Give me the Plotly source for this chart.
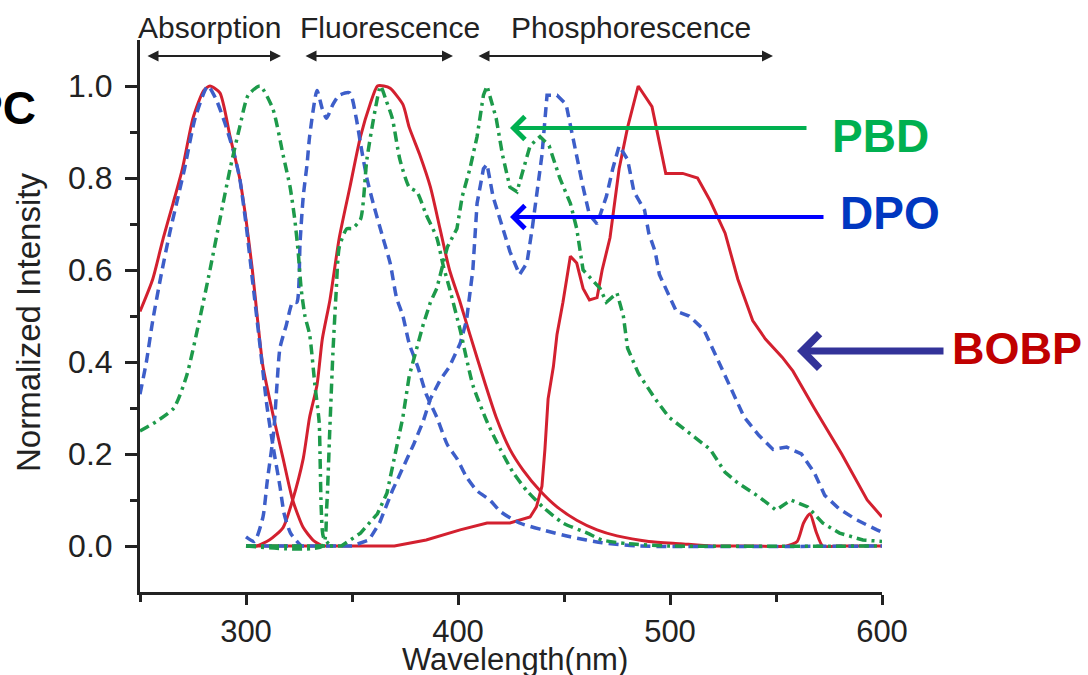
import plotly.graph_objects as go

# ---------------- data ----------------
# BOBP (red, solid)
bobp_abs_x = [250, 256, 261, 265.6, 270, 275, 280, 283, 287.7, 292.5, 297, 300, 303, 305.5, 308, 313, 317.5, 322, 327, 331.6, 336]
bobp_abs_y = [0.51, 0.58, 0.67, 0.745, 0.82, 0.93, 0.99, 1.0, 0.985, 0.89, 0.80, 0.71, 0.60, 0.49, 0.39, 0.28, 0.19, 0.10, 0.04, 0.013, 0.0]

bobp_fl_x = [300, 305, 311, 317.5, 322, 327, 330, 333.5, 336, 339.6, 344, 349, 354, 358.5, 362, 365, 368, 374, 377, 382,
             387, 391.5, 396, 401, 405.6, 413, 418, 424.5, 430.7, 438.7, 446.7, 456, 465.6, 475, 490, 505, 520, 540, 555, 560,
             563, 566, 569, 572, 580, 600]
bobp_fl_y = [0, 0, 0.013, 0.04, 0.10, 0.19, 0.28, 0.35, 0.45, 0.535, 0.67, 0.78, 0.89, 0.96, 1.0, 1.0, 0.995, 0.96, 0.91, 0.85,
             0.78, 0.69, 0.60, 0.53, 0.46, 0.35, 0.28, 0.21, 0.165, 0.12, 0.085, 0.056, 0.035, 0.022, 0.01, 0.005, 0.0, 0.0, 0.0, 0.01,
             0.05, 0.07, 0.03, 0.0, 0.0, 0.0]

bobp_ph_x = [300, 370, 385, 401, 413.7, 424.5, 434, 437, 439.6, 441, 442.5, 445, 446.7, 449.5, 453, 456, 459, 462, 465.6, 468,
             471.7, 476, 480, 485, 491.5, 495, 498, 506, 513, 519, 526, 532, 539, 545, 553, 558, 568, 581, 593, 600]
bobp_ph_y = [0, 0, 0.013, 0.035, 0.05, 0.05, 0.063, 0.085, 0.13, 0.21, 0.32, 0.39, 0.46, 0.53, 0.63, 0.615, 0.56, 0.535, 0.54, 0.60,
             0.67, 0.82, 0.91, 1.0, 0.955, 0.88, 0.81, 0.81, 0.80, 0.75, 0.68, 0.58, 0.49, 0.45, 0.41, 0.38, 0.30, 0.20, 0.10, 0.063]

# DPO (blue, dashed)
dpo_abs_x = [250, 253, 256, 260, 264, 268, 271, 276, 282, 286, 290, 294, 297, 300, 303, 306, 310, 313, 316, 318, 321, 326]
dpo_abs_y = [0.33, 0.40, 0.49, 0.59, 0.68, 0.76, 0.82, 0.93, 1.0, 0.97, 0.92, 0.86, 0.80, 0.70, 0.58, 0.46, 0.30, 0.21, 0.13, 0.07, 0.028, 0.0]

dpo_fl_x = [300, 304, 308, 310, 313, 314.6, 316, 319, 322, 324, 325.5, 327, 328.8, 330, 333.5, 336, 338, 341, 344, 349,
            352, 354, 357, 360, 364.6, 368, 371, 374, 377, 381, 385, 390, 395, 399.5, 404, 409, 415, 420, 429, 440,
            453, 468, 485, 600]
dpo_fl_y = [0.02, 0.01, 0.063, 0.14, 0.245, 0.35, 0.43, 0.48, 0.53, 0.53, 0.66, 0.76, 0.83, 0.89, 0.99, 0.95, 0.93, 0.96, 0.98, 0.985,
            0.93, 0.875, 0.80, 0.745, 0.67, 0.615, 0.54, 0.50, 0.44, 0.39, 0.33, 0.28, 0.22, 0.19, 0.15, 0.12, 0.10, 0.075, 0.05, 0.035,
            0.02, 0.007, 0.0, 0.0]

dpo_ph_x = [300, 350, 358, 363, 369, 374, 379, 383.5, 387, 391.5, 396, 401, 404, 407, 409, 412, 413.7, 416.5, 420, 424.5,
            429, 432.5, 435, 437, 439.6, 442, 446.7, 451, 454, 456, 459, 462, 465.6, 470, 473, 476, 480, 483, 488, 490,
            493, 495, 498, 503, 509, 516, 523, 529, 535, 542, 548.6, 555, 562, 568, 573, 580, 588, 597.6, 600]
dpo_ph_y = [0, 0, 0.013, 0.05, 0.12, 0.17, 0.22, 0.27, 0.32, 0.36, 0.39, 0.44, 0.49, 0.60, 0.745, 0.82, 0.83, 0.76, 0.71, 0.64,
            0.59, 0.615, 0.69, 0.76, 0.85, 0.98, 0.98, 0.96, 0.89, 0.85, 0.78, 0.72, 0.70, 0.76, 0.82, 0.87, 0.84, 0.77, 0.73, 0.68,
            0.64, 0.59, 0.56, 0.51, 0.50, 0.47, 0.40, 0.34, 0.28, 0.24, 0.21, 0.215, 0.20, 0.16, 0.11, 0.08, 0.057, 0.035, 0.03]

# PBD (green, dash-dot)
pbd_abs_x = [250, 257.5, 266, 272, 278, 283, 287.7, 292.5, 297, 301, 306.6, 312.7, 317.5, 320.8, 323, 324.6, 326, 327.8, 330, 332.5,
             334.5, 335, 335.5, 336.5, 340]
pbd_abs_y = [0.25, 0.27, 0.30, 0.37, 0.49, 0.60, 0.71, 0.82, 0.91, 0.98, 1.0, 0.95, 0.85, 0.78, 0.71, 0.64, 0.56, 0.50, 0.46, 0.35,
             0.27, 0.18, 0.08, 0.02, 0.0]

pbd_fl_x = [300, 336, 338, 339.5, 341, 342.5, 344, 347.6, 350, 354, 357, 361, 363.5, 366, 369, 372.6, 377, 380.6, 385, 390,
            393, 396, 401, 407, 413.7, 420, 426, 432.5, 440, 449.5, 461, 468, 480, 500, 600]
pbd_fl_y = [0, 0, 0.08, 0.25, 0.42, 0.55, 0.65, 0.69, 0.69, 0.71, 0.84, 0.95, 1.0, 0.97, 0.93, 0.84, 0.78, 0.77, 0.72, 0.67,
            0.61, 0.56, 0.47, 0.35, 0.27, 0.21, 0.16, 0.12, 0.085, 0.05, 0.028, 0.013, 0.005, 0.0, 0.0]

pbd_ph_x = [300, 345, 354, 362, 366.5, 371, 374, 377, 380.6, 383.5, 387, 390, 395, 399.5, 402, 405.6, 409, 412, 413.7, 418,
            421, 424.5, 427.8, 430.7, 434, 438.7, 443, 448, 453, 456, 459, 462, 467, 470, 475, 478, 480, 485, 493, 499.5,
            509.5, 519, 526, 532, 542, 550, 557, 565, 572, 580, 591, 600]
pbd_ph_y = [0, 0, 0.028, 0.07, 0.115, 0.21, 0.28, 0.37, 0.43, 0.48, 0.53, 0.56, 0.65, 0.69, 0.76, 0.82, 0.89, 0.98, 1.0, 0.93,
            0.85, 0.78, 0.77, 0.82, 0.87, 0.89, 0.87, 0.80, 0.745, 0.69, 0.60, 0.585, 0.56, 0.53, 0.55, 0.50, 0.43, 0.376, 0.32, 0.28,
            0.245, 0.21, 0.16, 0.137, 0.107, 0.078, 0.10, 0.085, 0.05, 0.028, 0.013, 0.01]

x_ticks = [300, 400, 500, 600]
x_minor = [250, 350, 450, 550]
y_ticks = [0.0, 0.2, 0.4, 0.6, 0.8, 1.0]
y_minor = [0.1, 0.3, 0.5, 0.7, 0.9]
region_labels = ["Absorption", "Fluorescence", "Phosphorescence"]

# ---------------- styling ----------------
RED = "#d3202f"
BLUE = "#3d5ec9"
GREEN = "#1d9a4a"
AX = "#222222"
FONT = "Arial, Liberation Sans, Helvetica, sans-serif"

W, H = 1088, 675
L, R, T, B = 140, 206, 40, 83
PW, PH = W - L - R, H - T - B


def px(xp):
    return (xp - L) / PW


def py(yp):
    return (H - B - yp) / PH


fig = go.Figure()

series = [
    (bobp_abs_x, bobp_abs_y, RED, "solid", 3, True),
    (bobp_fl_x, bobp_fl_y, RED, "solid", 3, True),
    (bobp_ph_x, bobp_ph_y, RED, "solid", 3, False),
    (dpo_abs_x, dpo_abs_y, BLUE, "10px,6px", 3.5, True),
    (dpo_fl_x, dpo_fl_y, BLUE, "10px,6px", 3.5, True),
    (dpo_ph_x, dpo_ph_y, BLUE, "10px,6px", 3.5, False),
    (pbd_abs_x, pbd_abs_y, GREEN, "10px,5px,3px,5px", 3.5, True),
    (pbd_fl_x, pbd_fl_y, GREEN, "10px,5px,3px,5px", 3.5, True),
    (pbd_ph_x, pbd_ph_y, GREEN, "10px,5px,3px,5px", 3.5, False),
]
for xs, ys, col, dash, w, smooth in series:
    assert len(xs) == len(ys), (len(xs), len(ys))
    fig.add_trace(go.Scatter(
        x=xs, y=ys, mode="lines", showlegend=False, hoverinfo="skip",
        line=dict(color=col, dash=dash, width=w,
                  shape="spline" if smooth else "linear", smoothing=0.6),
    ))

fig.update_layout(
    width=W, height=H,
    margin=dict(l=L, r=R, t=T, b=B, pad=0),
    paper_bgcolor="white", plot_bgcolor="white",
    font=dict(family=FONT, color=AX),
    xaxis=dict(
        range=[250, 600], showgrid=False, zeroline=False,
        showline=True, linewidth=3, linecolor=AX, mirror=False,
        ticks="outside", ticklen=10, tickwidth=3, tickcolor=AX,
        tickvals=x_ticks, ticktext=[str(v) for v in x_ticks],
        tickfont=dict(size=31, color=AX, family=FONT),
        ticklabelstandoff=0,
        minor=dict(tickvals=x_minor, ticks="outside", ticklen=7, tickwidth=3, tickcolor=AX),
    ),
    yaxis=dict(
        range=[-0.1, 1.1], showgrid=False, zeroline=False,
        showline=True, linewidth=3, linecolor=AX, mirror=False,
        ticks="outside", ticklen=12, tickwidth=3, tickcolor=AX,
        tickvals=y_ticks, ticktext=[f"{v:.1f}" for v in y_ticks],
        tickfont=dict(size=32, color=AX, family=FONT),
        ticklabelstandoff=6,
        minor=dict(tickvals=y_minor, ticks="outside", ticklen=7, tickwidth=3, tickcolor=AX),
    ),
)

ann = []
# axis titles
ann.append(dict(text="Wavelength(nm)", x=px(515), y=py(659), xref="paper", yref="paper",
                showarrow=False, font=dict(size=31, color=AX, family=FONT), xanchor="center", yanchor="middle"))
ann.append(dict(text="Normalized Intensity", x=px(29), y=py(323), xref="paper", yref="paper", textangle=-90,
                showarrow=False, font=dict(size=33, color=AX, family=FONT), xanchor="center", yanchor="middle"))


def arrow(tip, tail, **kw):
    (tx, ty), (sx, sy) = tip, tail
    d = dict(text="", x=px(tx), y=py(ty), xref="paper", yref="paper",
             ax=sx - tx, ay=sy - ty, showarrow=True)
    d.update(kw)
    return d


# region labels with double-headed arrows
label_pos = [(209, 28), (390, 28), (631, 28)]
arrow_pos = [(146, 281), (304, 453), (477, 773)]
for txt, (lx, ly), (a0, a1) in zip(region_labels, label_pos, arrow_pos):
    ann.append(dict(text=txt, x=px(lx), y=py(ly), xref="paper", yref="paper", showarrow=False,
                    font=dict(size=30, color=AX, family=FONT), xanchor="center", yanchor="middle"))
    ann.append(arrow((a1, 56), (a0, 56), arrowhead=2, startarrowhead=2, arrowside="end+start",
                     arrowwidth=2.2, arrowsize=1, startarrowsize=1, arrowcolor=AX))

# compound labels and pointer arrows
ann.append(dict(text="<b>PC</b>", x=px(38), y=py(108), xref="paper", yref="paper", showarrow=False,
                font=dict(size=46, color="black", family=FONT), xanchor="right", yanchor="middle"))

ann.append(dict(text="<b>PBD</b>", x=px(830), y=py(136), xref="paper", yref="paper", showarrow=False,
                font=dict(size=46, color="#00b050", family=FONT), xanchor="left", yanchor="middle"))
ann.append(arrow((510, 128), (808, 128), arrowhead=4, arrowwidth=4, arrowsize=1.1, arrowcolor="#00b050"))

ann.append(dict(text="<b>DPO</b>", x=px(838), y=py(213), xref="paper", yref="paper", showarrow=False,
                font=dict(size=46, color="#0037c0", family=FONT), xanchor="left", yanchor="middle"))
ann.append(arrow((510, 217), (825, 217), arrowhead=4, arrowwidth=4, arrowsize=1.1, arrowcolor="#0000ff"))

ann.append(dict(text="<b>BOBP</b>", x=px(950), y=py(349), xref="paper", yref="paper", showarrow=False,
                font=dict(size=45, color="#c00000", family=FONT), xanchor="left", yanchor="middle"))
ann.append(arrow((797, 351), (945, 351), arrowhead=4, arrowwidth=7, arrowsize=0.95, arrowcolor="#333399"))

fig.update_layout(annotations=ann)
fig.write_html("out.html")
